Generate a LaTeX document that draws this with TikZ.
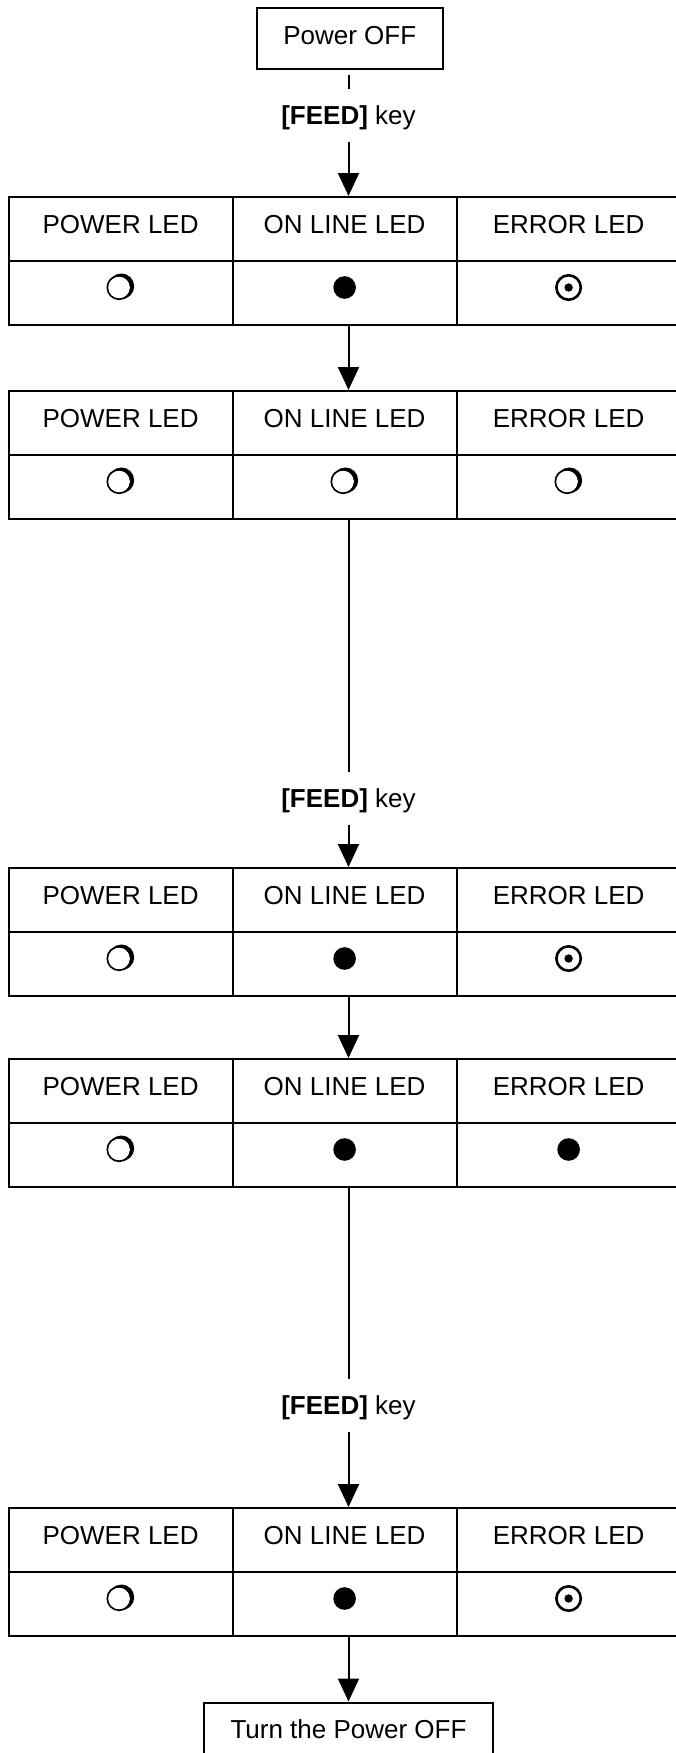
\documentclass[tikz,border=0pt]{standalone}
\usepackage{fontspec}
\setmainfont{Liberation Sans}
\usetikzlibrary{arrows.meta,calc}
\tikzset{
  lw/.style={line width=2pt},
  cell/.style={draw, lw, minimum width=224pt, minimum height=64pt, inner sep=0pt},
  txt/.style={inner sep=0pt, text height=18.6pt, text depth=0pt, font=\fontsize{26pt}{31pt}\selectfont},
  feedlbl/.style={txt, inner xsep=0pt, inner ysep=17pt},
  boxnode/.style={draw, lw, inner xsep=0pt, inner ysep=0pt, text height=18.6pt, text depth=7.2pt,
    font=\fontsize{26pt}{31pt}\selectfont},
  conn/.style={lw},
  arr/.style={lw, -{Triangle[width=21pt,length=23pt]}},
  ledoff/.pic={
    \fill[black] (0.8pt,1.2pt) circle (12.8pt);
    \fill[white] (-1.5pt,0) circle (10.9pt);
    \draw[line width=1.6pt] (-1.5pt,0) circle (11.8pt);
  },
  ledon/.pic={
    \fill[black] (0,0) circle (11.3pt);
  },
  ledblink/.pic={
    \draw[line width=2.6pt] (0,0) circle (12.2pt);
    \fill[black] (0,0) circle (4.2pt);
  },
}
\newcommand\ledtable[5]{%
  \node[cell] (#1a) at (120.6,#2+32) {};
  \node[cell] (#1b) at (344.6,#2+32) {};
  \node[cell] (#1c) at (568.6,#2+32) {};
  \node[cell] (#1d) at (120.6,#2+96) {};
  \node[cell] (#1e) at (344.6,#2+96) {};
  \node[cell] (#1f) at (568.6,#2+96) {};
  \node[txt] (#1ta) at (120.6,#2+27.5) {POWER LED};
  \node[txt] (#1tb) at (344.6,#2+27.5) {ON LINE LED};
  \node[txt] (#1tc) at (568.6,#2+27.5) {ERROR LED};
  \pic (#1sa) at (120.6,#2+90.5) {#3};
  \pic (#1sb) at (344.6,#2+90.5) {#4};
  \pic (#1sc) at (568.6,#2+90.5) {#5};
}
\begin{document}
\begin{tikzpicture}[x=1pt,y=-1pt]
\path[use as bounding box, fill=white] (0,0) rectangle (675,1753);

\node[boxnode, minimum width=185.5pt, minimum height=60.7pt] (pwr) at (349.75,38.6) {Power OFF};
\node[feedlbl] (feed1) at (348.5,115) {\bfseries [FEED]\mdseries{} key};

\ledtable{t1}{197}{ledoff}{ledon}{ledblink}
\ledtable{t2}{391}{ledoff}{ledoff}{ledoff}

\node[feedlbl] (feed2) at (348.5,798) {\bfseries [FEED]\mdseries{} key};

\ledtable{t3}{868}{ledoff}{ledon}{ledblink}
\ledtable{t4}{1059}{ledoff}{ledon}{ledon}

\node[feedlbl] (feed3) at (348.5,1405) {\bfseries [FEED]\mdseries{} key};

\ledtable{t5}{1508}{ledoff}{ledon}{ledblink}

\node[boxnode, minimum width=289pt, minimum height=61pt, anchor=north] (off) at (348.5,1701.5) {Turn the Power OFF};

\draw[conn] ([yshift=-5pt]pwr.south -| feed1) -- (feed1.north);
\draw[arr] (feed1.south) -- (feed1 |- t1b.north);
\draw[arr] (t1e.south -| feed1) -- (feed1 |- t2b.north);
\draw[conn] (t2e.south -| feed2) -- (feed2.north);
\draw[arr] (feed2.south) -- (feed2 |- t3b.north);
\draw[arr] (t3e.south -| feed2) -- (feed2 |- t4b.north);
\draw[conn] (t4e.south -| feed3) -- (feed3.north);
\draw[arr] (feed3.south) -- (feed3 |- t5b.north);
\draw[arr] (t5e.south -| off) -- (off.north);
\end{tikzpicture}
\end{document}
